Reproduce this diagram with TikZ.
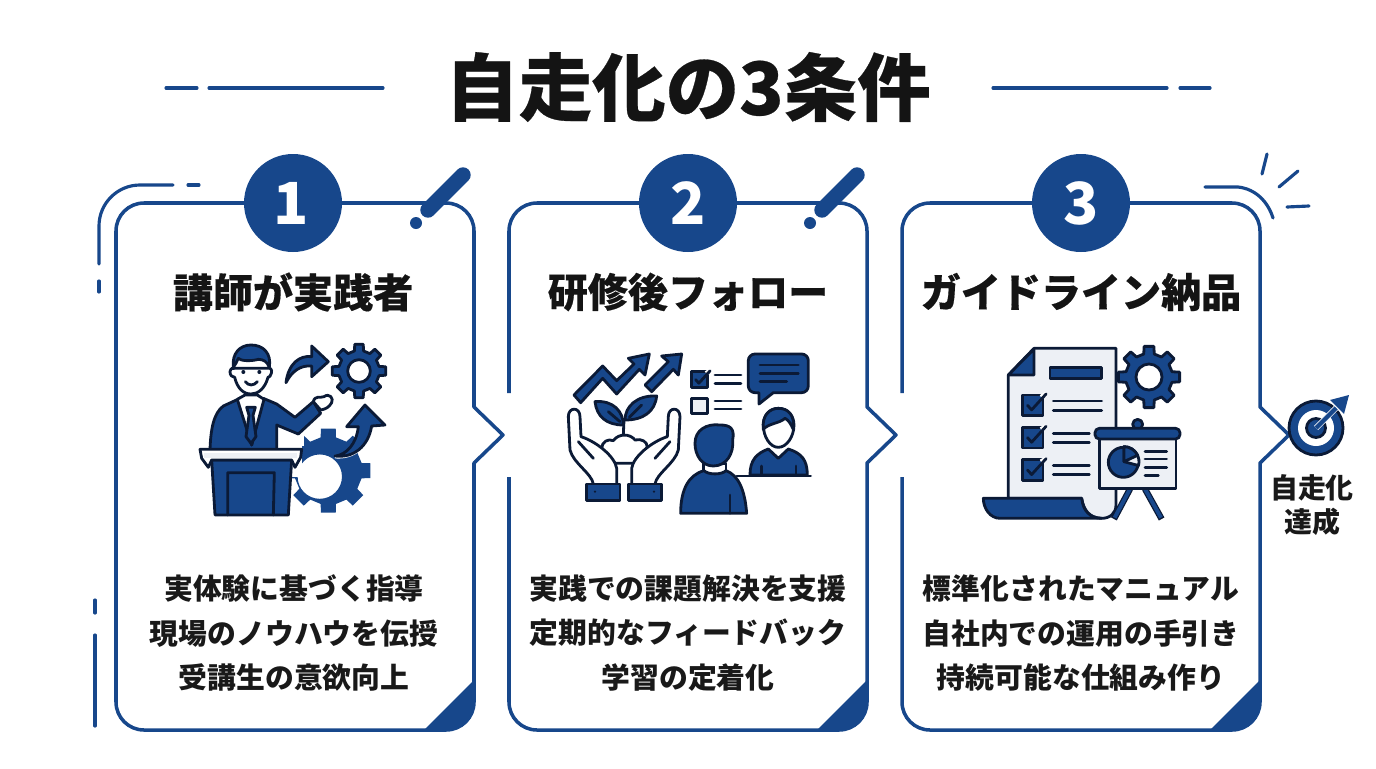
\documentclass[tikz,border=0pt]{standalone}
\usepackage{fontspec}
\setmainfont{Noto Sans CJK JP}
\newfontfamily\heavyfont[BoldFeatures={FakeBold=0.35}]{Noto Sans CJK JP}
\usepackage{xcolor}
\definecolor{navy}{HTML}{17478B}
\definecolor{ink}{HTML}{0B1A36}
\definecolor{pale}{HTML}{EDF0F5}
\tikzset{
	titletext/.style={font=\fontsize{41.8}{48}\heavyfont\bfseries, text=black!92},
	headtext/.style={font=\fontsize{22.8}{27}\heavyfont\bfseries, text=black!92},
	bodytext/.style={font=\fontsize{16.4}{25.5}\selectfont\bfseries, text=black!90, align=center},
	goaltext/.style={font=\fontsize{15.9}{19.5}\selectfont\bfseries, text=black!90, align=center},
	numtext/.style={font=\fontsize{33}{36}\selectfont\bfseries, text=white},
	rule/.style={draw=navy, line width=1.8pt, line cap=round},
	edge/.style={draw=navy, line width=2pt, line join=round},
	badge/.style={fill=navy},
	slash/.style={draw=navy, line width=8.8pt, line cap=round},
	outline/.style={draw=ink, line width=1.6pt, line join=round, line cap=round},
	solid navy/.style={outline, fill=navy},
	solid pale/.style={outline, fill=pale},
	solid white/.style={outline, fill=white},
}
\begin{document}
\begin{tikzpicture}[x=0.02cm,y=-0.02cm]
	\newcommand\CardEdge[1]{(#1,393) -- (#1,231) arc (180:270:28) -- (#1+330,203) arc (270:360:28) -- (#1+358,407) -- (#1+387,435) -- (#1+358,463) -- (#1+358,702) arc (0:90:28) -- (#1+28,730) arc (90:180:28) -- (#1,477)}
	\newcommand\CardCorner[1]{(#1+308,730) -- (#1+358,680) -- (#1+358,702) arc (0:90:28) -- cycle}
	\newcommand\GearIcon[3]{
		\begin{scope}[shift={(#1,#2)},scale=#3]
			\draw [solid navy, even odd rule] (-13:0.76) \foreach \a in {0,45,...,315} { -- (\a-13:0.76) -- (\a-9:1) -- (\a+9:1) -- (\a+13:0.76) } -- cycle (0,0) circle (0.42);
		\end{scope}
	}
	\newcommand\TickBox[3]{
		\draw [solid navy] (#1,#2) rectangle +(#3,#3);
		\draw [white, line width=2.6pt] (#1+0.9*#3,#2+0.1*#3) -- (#1+1.15*#3,#2-0.05*#3);
		\draw [outline] (#1+0.25*#3,#2+0.5*#3) -- (#1+0.45*#3,#2+0.72*#3) -- (#1+1.15*#3,#2-0.05*#3);
	}
	\newcommand\HandIcon{
		(100,432) .. controls (95,400) and (40,370) .. (30,330) -- (25,230) .. controls (25,200) and (60,200) .. (60,230) -- (63,290) .. controls (110,305) and (165,350) .. (170,385) -- (170,432)
	}

	\useasboundingbox (0,0) rectangle (1376,768);

	\node (title) [titletext] at (688,87) {自走化の3条件};
	\draw [rule] (166,88) -- (197,88);
	\draw [rule] (209,88) -- (383,88);
	\draw [rule] (993,88) -- (1167,88);
	\draw [rule] (1180,88) -- (1210,88);

	% card frames
	\draw [edge] \CardEdge{116};
	\draw [edge] (116,393) -- (116,477);
	\draw [edge] \CardEdge{509};
	\draw [edge] \CardEdge{902};
	\fill [navy] \CardCorner{116};
	\fill [navy] \CardCorner{509};
	\fill [navy] \CardCorner{902};

	% loose strokes round the frames
	\draw [rule] (173,185) -- (140,185) arc (270:180:41) -- (99,264);
	\draw [rule] (188,185) -- (199,185);
	\draw [rule] (99,281) -- (99,292);
	\draw [rule] (95,600) -- (95,613);
	\draw [rule] (95,635) -- (95,726);
	\draw [slash] (428,210) -- (463,175);
	\fill [navy] (416,223) circle (6);
	\draw [slash] (822,210) -- (857,175);
	\fill [navy] (810,223) circle (6);
	\draw [rule] (1205,187) -- (1238,187) .. controls (1256,189) and (1268,202) .. (1273,218);
	\draw [rule] (1267,154) -- (1262,174);
	\draw [rule] (1298,171) -- (1279,187);
	\draw [rule] (1287,207) -- (1309,206);

	% numbers
	\fill [badge] (293,203) circle (49);
	\fill [badge] (688,203) circle (49);
	\fill [badge] (1081,203) circle (49);
	\node (numone) [numtext] at (291,203) {1};
	\node (numtwo) [numtext] at (688,203) {2};
	\node (numthree) [numtext] at (1081,203) {3};

	\node (headone) [headtext] at (293,292) {講師が実践者};
	\node (headtwo) [headtext] at (688,292) {研修後フォロー};
	\node (headthree) [headtext] at (1081,292) {ガイドライン納品};

	\node (bodyone) [bodytext] at (294,633) {実体験に基づく指導\\現場のノウハウを伝授\\受講生の意欲向上};
	\node (bodytwo) [bodytext] at (688,633) {実践での課題解決を支援\\定期的なフィードバック\\学習の定着化};
	\node (bodythree) [bodytext] at (1081,633) {標準化されたマニュアル\\自社内での運用の手引き\\持続可能な仕組み作り};

	\node (goal) [goaltext] at (1312,505) {自走化\\達成};

	% speaker icon
	\GearIcon{359}{371}{27}
	\begin{scope}[shift={(180,330)},scale=0.3333]
		\begin{scope}[shift={(445,422)},scale=128]
			\fill [navy, even odd rule] (-13:0.8) \foreach \a in {0,45,...,315} { -- (\a-13:0.8) -- (\a-10:1) -- (\a+10:1) -- (\a+13:0.8) } -- cycle (-0.2,0.14) circle (0.52);
		\end{scope}
		\fill [white] (300,347) rectangle (365,440);
		\fill [white] (300,280) rectangle (372,347);
		\draw [solid navy] (318,158) .. controls (325,100) and (360,75) .. (395,80) -- (395,48) -- (445,95) -- (395,140) -- (395,108) .. controls (360,105) and (335,125) .. (318,158) -- cycle;
		\draw [white, line width=2pt] (465,380) .. controls (520,385) and (565,350) .. (575,288);
		\draw [solid navy] (465,378) .. controls (500,375) and (530,340) .. (535,290) -- (500,290) -- (555,225) -- (615,285) -- (575,288) .. controls (565,350) and (520,385) .. (465,378) -- cycle;
		\draw [solid navy] (90,360) .. controls (92,300) and (100,250) .. (130,228) -- (180,205) -- (215,345) -- (250,205) -- (290,222) -- (345,262) -- (400,215) -- (422,250) -- (355,312) -- (290,285) -- (290,360) -- cycle;
		\draw [solid white] (172,208) -- (195,195) -- (232,195) -- (252,208) -- (215,345) -- cycle;
		\draw [solid navy] (200,232) -- (226,232) -- (219,256) -- (228,320) -- (213,340) -- (198,320) -- (207,256) -- cycle;
		\draw [solid white] (150,125) .. controls (152,115) and (158,112) .. (165,115) -- (262,115) .. controls (270,112) and (278,118) .. (274,130) .. controls (272,138) and (268,142) .. (264,142) .. controls (255,175) and (235,192) .. (213,192) .. controls (190,192) and (172,175) .. (164,142) .. controls (155,142) and (150,135) .. (150,125) -- cycle;
		\draw [solid navy] (160,112) .. controls (155,70) and (180,45) .. (213,45) .. controls (250,45) and (275,70) .. (268,112) .. controls (262,95) and (250,88) .. (235,88) .. controls (210,95) and (180,92) .. (175,85) .. controls (170,95) and (166,105) .. (160,112) -- cycle;
		\fill [ink] (190,126) circle (6);
		\fill [ink] (238,126) circle (6);
		\draw [outline] (196,155) .. controls (205,168) and (222,168) .. (232,155);
		\draw [solid white] (400,215) .. controls (405,195) and (420,205) .. (432,200) .. controls (448,188) and (462,205) .. (455,218) .. controls (448,232) and (435,238) .. (422,240) -- cycle;
		\draw [solid navy] (95,390) -- (335,390) -- (325,555) -- (105,555) -- cycle;
		\draw [outline] (143,555) -- (143,428) -- (283,428) -- (280,555);
		\draw [solid white] (60,358) -- (365,358) -- (362,382) -- (345,412) -- (335,390) -- (95,390) -- (85,412) -- (65,385) -- cycle;
		\fill [pale] (72,368) rectangle (352,385);
	\end{scope}

	% follow-up icon
	\begin{scope}[shift={(560,340)},scale=0.3333]
		\draw [solid navy] (42,165) -- (128,78) -- (170,122) -- (222,72) -- (205,55) -- (268,42) -- (255,105) -- (238,88) -- (170,162) -- (128,115) -- (62,188) -- cycle;
		\draw [solid navy] (255,135) -- (325,65) -- (305,48) -- (365,42) -- (355,105) -- (340,88) -- (275,155) -- cycle;
		\draw [solid navy] (105,185) .. controls (160,180) and (190,215) .. (190,255) .. controls (140,255) and (110,230) .. (105,185) -- cycle;
		\draw [solid navy] (290,168) .. controls (230,165) and (195,200) .. (195,240) .. controls (250,240) and (285,215) .. (290,168) -- cycle;
		\draw [outline] (190,285) -- (192,240);
		\draw [outline] (145,215) -- (180,245);
		\draw [outline] (245,195) -- (208,232);
		\draw [solid white] (125,325) .. controls (125,305) and (145,295) .. (160,302) .. controls (175,280) and (210,280) .. (225,300) .. controls (245,295) and (262,305) .. (262,322) -- (225,370) -- (165,370) -- cycle;
		\draw [outline, fill=white] \HandIcon;
		\draw [outline] (55,305) -- (100,355);
		\begin{scope}[shift={(385,0)},xscale=-1]
			\draw [outline, fill=white] \HandIcon;
			\draw [outline] (55,305) -- (100,355);
		\end{scope}
		\draw [solid navy] (80,432) rectangle (180,482);
		\draw [solid navy] (205,432) rectangle (305,482);
		\fill [ink] (105,455) circle (4);
		\fill [ink] (282,455) circle (4);
		\TickBox{395}{95}{48}
		\draw [outline] (465,105) -- (543,105);
		\draw [outline] (465,130) -- (543,130);
		\draw [solid pale] (395,175) rectangle (443,220);
		\draw [outline] (465,183) -- (543,183);
		\draw [outline] (465,207) -- (543,207);
		\draw [solid navy] (585,42) -- (725,42) arc (270:360:20) -- (745,138) arc (0:90:20) -- (640,158) -- (597,192) -- (597,158) -- (585,158) arc (90:180:20) -- (565,62) arc (180:270:20) -- cycle;
		\draw [outline] (600,75) -- (715,75);
		\draw [outline] (600,100) -- (715,100);
		\draw [outline] (600,125) -- (680,125);
		\draw [solid navy] (570,405) .. controls (570,360) and (590,340) .. (625,327) -- (655,355) -- (685,327) .. controls (725,340) and (742,360) .. (742,405) -- cycle;
		\draw [outline] (605,405) -- (605,378);
		\draw [outline] (708,405) -- (708,378);
		\draw [solid white] (610,255) .. controls (610,290) and (630,322) .. (655,322) .. controls (680,322) and (702,290) .. (702,255) .. controls (702,225) and (680,205) .. (655,205) .. controls (630,205) and (610,225) .. (610,255) -- cycle;
		\draw [solid navy] (610,268) .. controls (605,225) and (630,205) .. (655,205) .. controls (685,205) and (705,225) .. (700,268) .. controls (692,250) and (685,240) .. (675,235) .. controls (660,250) and (625,250) .. (610,268) -- cycle;
		\draw [outline] (530,408) -- (752,408);
		\draw [solid white] (430,370) rectangle (498,405);
		\draw [solid navy] (405,310) .. controls (405,270) and (440,250) .. (480,255) .. controls (510,255) and (525,265) .. (518,300) .. controls (522,340) and (500,378) .. (460,378) .. controls (425,378) and (405,345) .. (405,310) -- cycle;
		\draw [solid navy] (362,520) .. controls (362,450) and (385,405) .. (432,392) .. controls (445,405) and (485,405) .. (498,392) .. controls (535,405) and (555,450) .. (560,520) -- cycle;
		\draw [outline] (510,465) -- (510,520);
	\end{scope}

	% guideline icon
	\GearIcon{1149}{377}{31}
	\begin{scope}[shift={(970,335)},scale=0.3333]
		\draw [solid pale] (115,490) -- (115,120) -- (192,40) -- (438,40) -- (438,510) .. controls (438,535) and (420,550) .. (395,550) .. controls (355,550) and (340,520) .. (335,490) -- cycle;
		\draw [solid navy] (115,120) -- (192,120) -- (192,42) -- cycle;
		\draw [solid navy] (240,97) rectangle (395,130);
		\TickBox{157}{180}{62}
		\TickBox{157}{277}{62}
		\TickBox{157}{374}{62}
		\draw [outline] (250,198) -- (395,198);
		\draw [outline] (250,226) -- (395,226);
		\draw [outline] (250,295) -- (358,295);
		\draw [outline] (250,323) -- (358,323);
		\draw [outline] (250,391) -- (358,391);
		\draw [outline] (250,419) -- (358,419);
		\draw [solid navy] (40,490) -- (335,490) .. controls (340,530) and (360,548) .. (395,550) -- (90,550) .. controls (60,550) and (40,520) .. (40,490) -- cycle;
		\draw [solid navy] (503,268) circle (15);
		\draw [ink, line width=3.6pt] (480,462) -- (432,552);
		\draw [ink, line width=3.6pt] (525,462) -- (575,552);
		\draw [navy, line width=2.2pt] (480,462) -- (434,548);
		\draw [navy, line width=2.2pt] (525,462) -- (573,548);
		\draw [solid pale] (388,305) rectangle (618,460);
		\draw [solid navy, rounded corners=2.5pt] (375,280) rectangle (630,312);
		\draw [solid navy] (460,382) circle (45);
		\draw [solid pale] (462,380) -- (462,335) arc (270:375:45) -- cycle;
		\draw [solid navy] (462,380) -- (462,335) arc (270:335:45) -- cycle;
		\draw [outline] (525,350) -- (590,350);
		\draw [outline] (525,372) -- (590,372);
		\draw [outline] (525,397) -- (590,397);
		\draw [outline] (525,422) -- (565,422);
	\end{scope}

	% goal target
	\draw [solid navy] (1316,428) circle (27);
	\fill [white] (1316,428) circle (18);
	\draw [solid navy] (1316,428) circle (9.5);
	\draw [draw=pale, line width=3.4pt] (1316,428) -- (1336,408);
	\draw [navy, line width=2.4pt] (1316,428) -- (1336,408);
	\fill [navy] (1349,395) -- (1330,400) -- (1344,414) -- cycle;
\end{tikzpicture}
\end{document}
